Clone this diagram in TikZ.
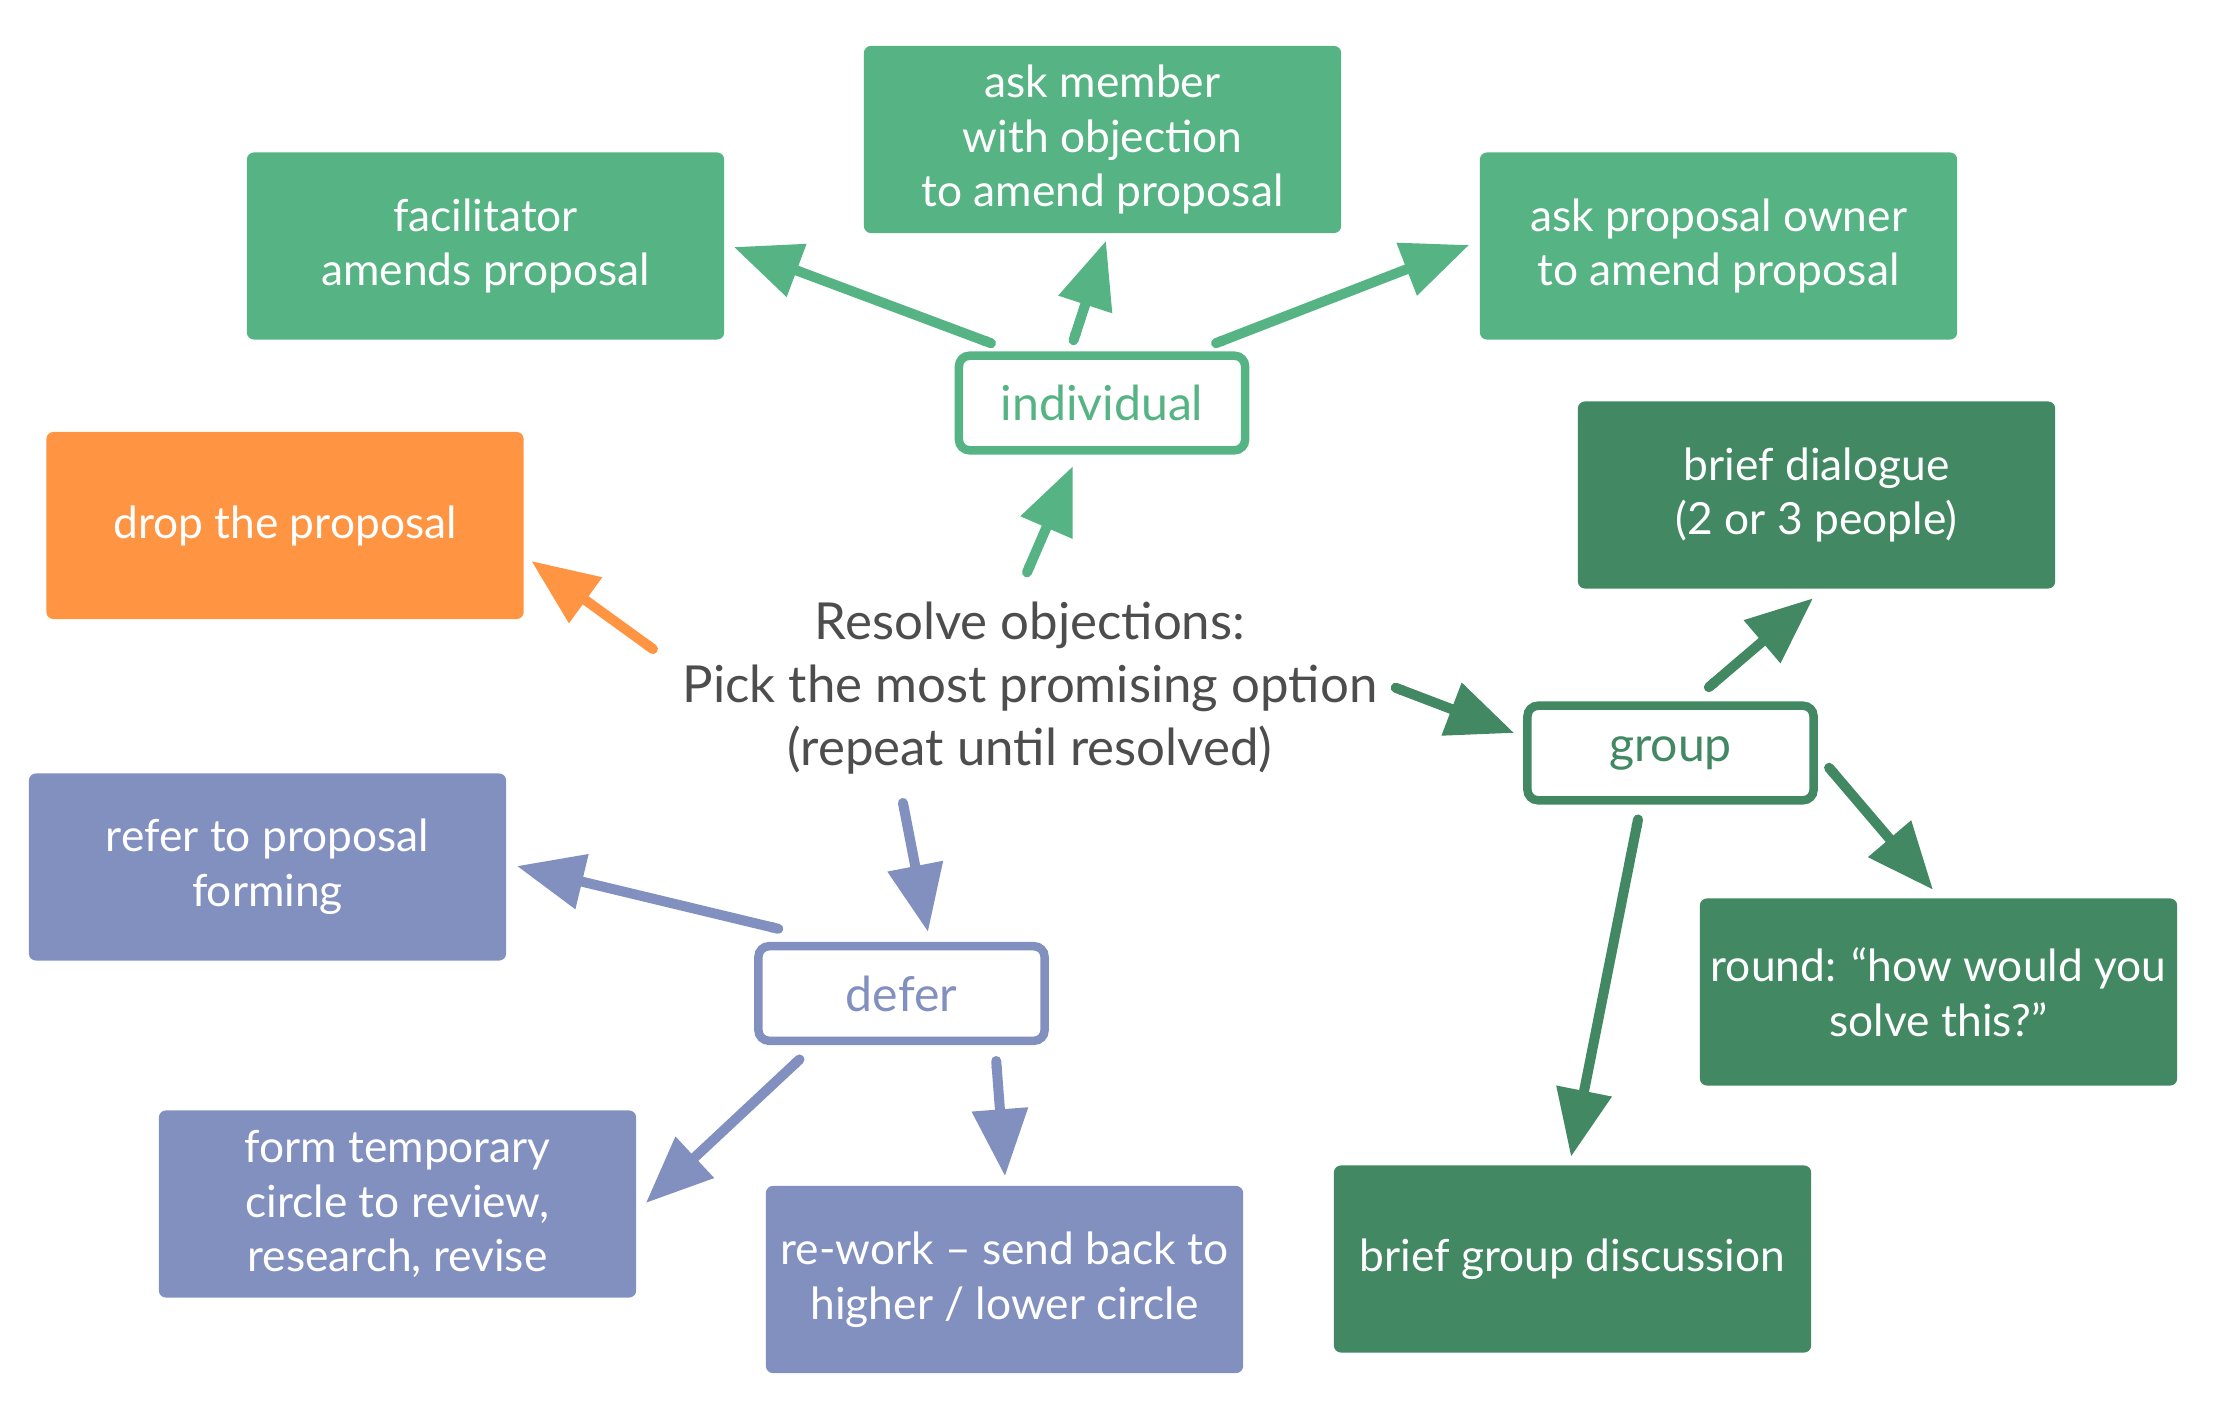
\documentclass[tikz,border=0pt]{standalone}
\usepackage{fontspec}
\setmainfont{Lato}
\usepackage{xcolor}
\usetikzlibrary{arrows.meta, calc, positioning}

\definecolor{lgreen}{RGB}{86,179,132}
\definecolor{dgreen}{RGB}{65,136,99}
\definecolor{dorange}{RGB}{255,148,66}
\definecolor{lpurple}{RGB}{130,144,192}
\definecolor{tgray}{RGB}{77,77,77}

\begin{document}
\begin{tikzpicture}[x=0.01cm, y=-0.01cm,
    box/.style={fill=#1, text=white, rounded corners=2pt, minimum width=4.77cm, minimum height=1.87cm, inner sep=0pt, align=center, font=\fontsize{12.6}{15.6}\selectfont},
    choice/.style={draw=#1, line width=0.085cm, fill=white, text=#1, rounded corners=3pt, minimum width=2.86cm, minimum height=0.945cm, inner sep=0pt, font=\fontsize{13.7}{16}\selectfont},
    arr/.style={draw=#1, line width=0.1cm, shorten >=-0.08cm, {Round Cap[]}-{Triangle[length=0.67cm, width=0.54cm, sep=0.08cm]}}]
    \useasboundingbox (0,0) rectangle (2216,1419);

    % question in the middle
    \node[align=center, text=tgray, font=\fontsize{14.5}{17.9}\selectfont] at (1030,688) (res) {Resolve objections:\\Pick the most promising option\\(repeat until resolved)};

    \node[choice=lgreen] at (1102,403) (ind) {individual};
    \node[choice=dgreen] at (1670.5,753) (group) {group};
    \node[choice=lpurple] at (901.5,993.5) (defer) {defer};

    \node[box=lgreen] at (485.5,246) (fac) {facilitator\\amends proposal};
    \node[box=lgreen] at (1102.5,139.5) (askm) {ask member\\with objection\\to amend proposal};
    \node[box=lgreen] at (1718.5,246) (owner) {ask proposal owner\\to amend proposal};
    \node[box=dorange] at (285,525.5) (drop) {drop the proposal};
    \node[box=dgreen] at (1816.5,495) (dialog) {brief dialogue\\(2 or 3 people)};
    \node[box=dgreen] at (1938.5,992) (round) {round: “how would you\\solve this?”};
    \node[box=dgreen] at (1572.5,1259) (discuss) {brief group discussion};
    \node[box=lpurple] at (267.5,867) (refer) {refer to proposal\\forming};
    \node[box=lpurple] at (397.5,1204) (form) {form temporary\\circle to review,\\research, revise};
    \node[box=lpurple] at (1004.5,1279.5) (rework) {re-work -- send back to\\higher / lower circle};

    % options
    \draw[arr=lgreen] ($(res.center)+(-5,-111)$) -- ($(ind.south)+(-29,11.5)$);
    \draw[arr=dorange] ($(res.center)+(-373,-36)$) -- ($(drop.east)+(7,35.5)$);
    \draw[arr=dgreen] ($(res.center)+(361,-2)$) -- ($(group.west)+(-9,-20)$);
    \draw[arr=lpurple] ($(res.center)+(-128,110)$) -- ($(defer.north)+(26.5,-10)$);

    \draw[arr=lgreen] ($(ind.north west)+(41,-6.5)$) -- ($(fac.east)+(9,1)$);
    \draw[arr=lgreen] ($(ind.north)+(-30,-6.5)$) -- ($(askm.south)+(3.5,7)$);
    \draw[arr=lgreen] ($(ind.north east)+(-38,-6.5)$) -- ($(owner.west)+(-10,-1)$);

    \draw[arr=dgreen] ($(group.north)+(34.5,-11)$) -- ($(dialog.south)+(-3.5,9)$);
    \draw[arr=dgreen] ($(group.east)+(8,11)$) -- ($(round.north)+(-5.5,-8)$);
    \draw[arr=dgreen] ($(group.south)+(-31.5,10)$) -- ($(discuss.north)+(-1.5,-8)$);

    \draw[arr=lpurple] ($(defer.north west)+(29,-12)$) -- ($(refer.east)+(10,-1)$);
    \draw[arr=lpurple] ($(defer.south west)+(49,11)$) -- ($(form.east)+(9,-1)$);
    \draw[arr=lpurple] ($(defer.south east)+(-53,11)$) -- ($(rework.north)+(0.5,-9)$);
  \end{tikzpicture}
\end{document}
